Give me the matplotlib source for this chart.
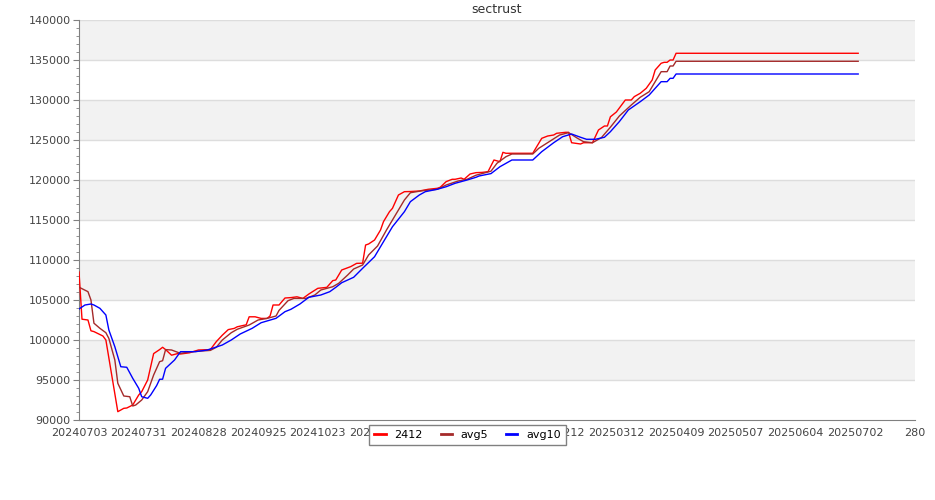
"""sectrust: daily value with 5 and 10 day averages."""

import numpy as np
from matplotlib import pyplot as plt
from matplotlib.ticker import MultipleLocator

#-----------------------------------------------------------------------------
# Data (x = trading-day index, y = value)
#-----------------------------------------------------------------------------

tick_pos = [0, 20, 40, 60, 80, 100, 120, 140, 160, 180, 200, 220, 240, 260, 280]
tick_labels = ['20240703', '20240731', '20240828', '20240925', '20241023',
               '20241120', '20241218', '20250115', '20250212', '20250312',
               '20250409', '20250507', '20250604', '20250702', '280']

raw_pts = [
    (0, 108500), (1, 102600), (3, 102500), (4, 101150), (5, 101050),
    (8, 100500), (9, 100000), (13, 91040), (15, 91460), (16, 91500),
    (18, 91875), (20, 93125), (21, 93540), (23, 95000), (25, 98300),
    (27, 98800), (28, 99090), (29, 98800), (31, 98100), (33, 98300),
    (34, 98250), (37, 98400), (40, 98750), (44, 98800), (46, 99800),
    (48, 100600), (50, 101300), (52, 101450), (53, 101650), (56, 101900),
    (57, 102900), (59, 102900), (61, 102700), (63, 102700), (64, 103000),
    (65, 104375), (67, 104375), (69, 105250), (71, 105300), (73, 105400),
    (75, 105200), (77, 105750), (80, 106460), (83, 106580), (85, 107420),
    (86, 107500), (88, 108750), (91, 109170), (93, 109580), (95, 109600),
    (96, 111875), (97, 112000), (99, 112500), (101, 113750), (102, 114800),
    (104, 116040), (105, 116460), (107, 118125), (109, 118540), (111, 118560),
    (114, 118625), (117, 118840), (120, 118960), (121, 119090), (123, 119800),
    (125, 120090), (126, 120090), (128, 120250), (129, 120090), (131, 120750),
    (133, 120920), (135, 120950), (137, 121040), (139, 122500), (141, 122290),
    (142, 123460), (143, 123340), (152, 123340), (154, 124590), (155, 125210),
    (157, 125500), (159, 125625), (160, 125840), (163, 125960), (164, 125960),
    (165, 124660), (168, 124500), (169, 124660), (172, 124660), (174, 126250),
    (176, 126750), (177, 126750), (178, 127900), (180, 128500), (181, 129000),
    (183, 130000), (185, 130000), (186, 130420), (188, 130840), (190, 131460),
    (192, 132500), (193, 133750), (195, 134590), (196, 134710), (197, 134710),
    (198, 135000), (199, 135000), (200, 135840), (261, 135840),
]

avg5_pts = [
    (0, 106600), (3, 106040), (4, 105000), (5, 102100), (7, 101460),
    (9, 100910), (10, 100200), (12, 97500), (13, 94590), (15, 93000),
    (17, 92910), (18, 91750), (19, 91875), (21, 92500), (23, 93540),
    (25, 95625), (27, 97290), (28, 97410), (29, 98800), (31, 98750),
    (34, 98330), (37, 98500), (40, 98600), (44, 98700), (46, 99090),
    (48, 100000), (51, 100910), (53, 101340), (57, 101875), (60, 102500),
    (63, 102700), (66, 103000), (67, 103700), (70, 104910), (72, 105200),
    (76, 105200), (79, 105625), (81, 106250), (85, 106660), (87, 107090),
    (90, 108125), (92, 108875), (95, 109375), (97, 110625), (100, 111750),
    (103, 113750), (106, 115625), (109, 117500), (111, 118410), (115, 118660),
    (120, 118840), (123, 119375), (127, 119875), (130, 120090), (133, 120600),
    (138, 121100), (140, 122090), (143, 122910), (145, 123250), (152, 123250),
    (154, 123960), (158, 124910), (161, 125625), (164, 125920), (167, 125210),
    (169, 124790), (172, 124660), (175, 125300), (178, 126600), (181, 128000),
    (185, 129375), (188, 130340), (191, 131040), (193, 132290), (195, 133540),
    (197, 133540), (198, 134250), (199, 134250), (200, 134840), (261, 134840),
]

avg10_pts = [
    (0, 103875), (2, 104375), (4, 104500), (5, 104375), (7, 103960),
    (9, 103125), (10, 101250), (12, 99160), (14, 96660), (16, 96590),
    (18, 95210), (20, 93960), (21, 92910), (23, 92710), (24, 93125),
    (26, 94300), (27, 95090), (28, 95100), (29, 96460), (32, 97500),
    (34, 98540), (39, 98540), (43, 98750), (48, 99375), (51, 100000),
    (54, 100750), (58, 101460), (61, 102160), (66, 102710), (69, 103540),
    (71, 103840), (74, 104500), (77, 105340), (81, 105625), (84, 106040),
    (86, 106580), (88, 107160), (92, 107840), (95, 108960), (99, 110410),
    (102, 112290), (105, 114160), (109, 116040), (111, 117290), (114, 118125),
    (116, 118540), (120, 118840), (123, 119160), (126, 119590), (130, 120000),
    (133, 120340), (134, 120500), (138, 120800), (141, 121660), (144, 122290),
    (145, 122500), (152, 122500), (155, 123540), (159, 124660), (162, 125410),
    (165, 125750), (168, 125340), (170, 125090), (173, 125090), (176, 125340),
    (178, 126040), (181, 127300), (184, 128750), (188, 129790), (191, 130625),
    (193, 131460), (195, 132290), (197, 132290), (198, 132710), (199, 132710),
    (200, 133250), (261, 133250),
]

#-----------------------------------------------------------------------------
# Plot
#-----------------------------------------------------------------------------

fig = plt.figure(figsize=(9.35, 5.0), dpi=100)
ax = fig.add_axes([0.0845, 0.16, 0.894, 0.80])

# alternating bands and grid lines
for lo in range(90000, 140000, 5000):
    if (lo // 5000) % 2 == 1:
        ax.axhspan(lo, lo + 5000, color='#f2f2f2', lw=0, zorder=0)
for y in range(95000, 140001, 5000):
    ax.axhline(y, color='#dddddd', lw=1, zorder=1)

series = [('2412', raw_pts, 'red'),
          ('avg5', avg5_pts, '#a52a2a'),
          ('avg10', avg10_pts, 'blue')]
for name, pts, col in series:
    x, y = np.array(pts).T
    ax.plot(x, y, color=col, lw=1, label=name, zorder=3)

ax.set_xlim(0, 280)
ax.set_ylim(90000, 140000)
ax.set_xticks(tick_pos)
ax.set_xticklabels(tick_labels)
ax.yaxis.set_major_locator(MultipleLocator(5000))
ax.yaxis.set_minor_locator(MultipleLocator(1000))

for side in ['top', 'right']:
    ax.spines[side].set_visible(False)
for side in ['left', 'bottom']:
    ax.spines[side].set_color('#808080')

ax.tick_params(axis='x', length=0, pad=6, labelsize=8, labelcolor='#444444')
ax.tick_params(axis='y', which='major', length=4, pad=2, labelsize=8,
               labelcolor='#444444', color='#808080')
ax.tick_params(axis='y', which='minor', length=2, color='#808080')

ax.set_title('sectrust', fontsize=9, color='#333333', pad=5)

leg = fig.legend(loc='upper center', bbox_to_anchor=(0.5, 0.15), ncol=3,
                 fontsize=8, handlelength=1.0, columnspacing=1.6,
                 fancybox=False, framealpha=1, edgecolor='#808080',
                 borderpad=0.45, borderaxespad=0)
leg.get_frame().set_linewidth(1)
for line in leg.get_lines():
    line.set_linewidth(2)

fig.savefig('out.png', dpi=100)
